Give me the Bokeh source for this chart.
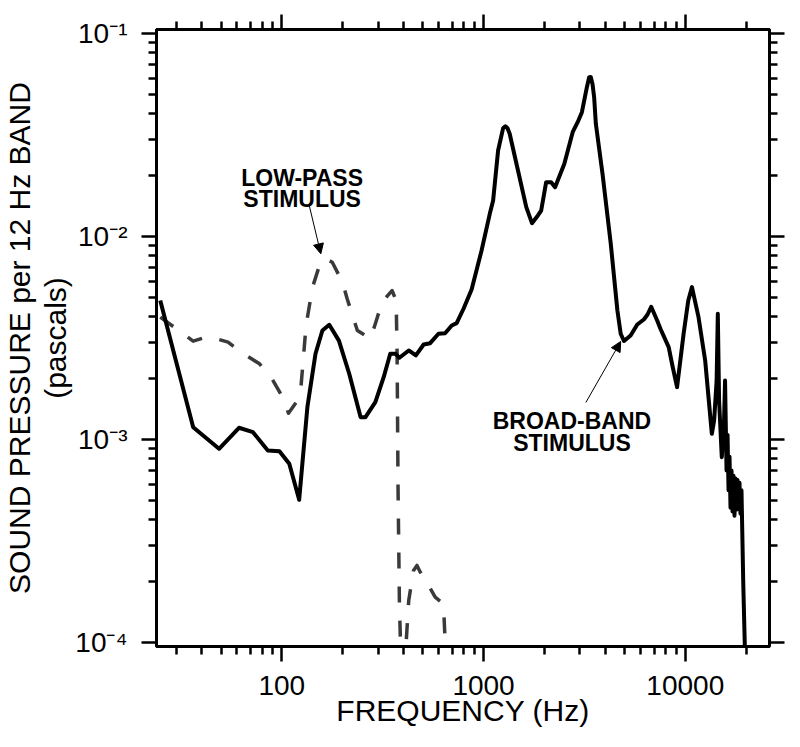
from bokeh.plotting import figure
from bokeh.models import (Range1d, FixedTicker, LogAxis, CustomJSTickFormatter,
                          Label, Arrow, NormalHead)
from bokeh.embed import file_html
from bokeh.resources import INLINE

# ---------------- data ----------------
# Broad-band stimulus (solid line): frequency in Hz, pressure in pascals
bb_freq = [25, 36.4, 48.9, 61.4, 72.0, 85.3, 97.4, 109, 122, 134, 147, 159, 172,
           192, 216, 246, 260, 291, 320, 345, 366, 383, 426, 462, 505, 544, 598,
           645, 696, 736, 797, 873, 978, 1074, 1116, 1181, 1250, 1283, 1315, 1348,
           1482, 1629, 1738, 1860, 1931, 2044, 2163, 2263, 2515, 2766, 2928, 3073,
           3253, 3339, 3400, 3470, 3534, 3603, 3888, 4272, 4608, 4785, 4967, 5358,
           5781, 6230, 6500, 6776, 7254, 7530, 8273, 8630, 9102, 9809, 10345, 10789,
           11629, 12546, 13537, 13896, 14297, 14492, 14707, 15164, 15565, 15740,
           16010, 16196, 16380, 16566, 16755, 16946, 17140, 17336, 17534, 17735,
           17937, 18142, 18350, 18560, 18772, 18987, 19160, 19378, 19755]
bb_pres = [4.82e-3, 1.146e-3, 8.97e-4, 1.138e-3, 1.083e-3, 8.8e-4, 8.73e-4, 7.56e-4,
           5.03e-4, 1.438e-3, 2.634e-3, 3.43e-3, 3.66e-3, 3.06e-3, 2.10e-3, 1.284e-3,
           1.284e-3, 1.522e-3, 2.02e-3, 2.634e-3, 2.634e-3, 2.518e-3, 2.735e-3,
           2.585e-3, 2.927e-3, 2.971e-3, 3.305e-3, 3.328e-3, 3.632e-3, 3.728e-3,
           4.404e-3, 5.46e-3, 8.50e-3, 1.289e-2, 1.499e-2, 2.644e-2, 3.40e-2,
           3.48e-2, 3.40e-2, 3.195e-2, 2.107e-2, 1.39e-2, 1.159e-2, 1.265e-2,
           1.338e-2, 1.845e-2, 1.845e-2, 1.743e-2, 2.273e-2, 3.253e-2, 3.644e-2,
           4.081e-2, 5.42e-2, 6.07e-2, 6.08e-2, 5.6e-2, 4.84e-2, 3.578e-2, 2.03e-2,
           9.18e-3, 4.305e-3, 3.305e-3, 3.045e-3, 3.242e-3, 3.673e-3, 3.887e-3,
           4.114e-3, 4.49e-3, 3.843e-3, 3.498e-3, 2.84e-3, 2.307e-3, 1.804e-3,
           3.305e-3, 4.82e-3, 5.61e-3, 3.99e-3, 2.442e-3, 1.063e-3, 1.236e-3,
           1.946e-3, 4.146e-3, 1.551e-3, 8.15e-4, 1.236e-3, 1.946e-3, 7.01e-4,
           1.05e-3, 5.6e-4, 8.2e-4, 4.6e-4, 7.0e-4, 4.4e-4, 6.6e-4, 4.2e-4, 6.4e-4,
           4.5e-4, 6.3e-4, 4.6e-4, 6.1e-4, 4.3e-4, 5.6e-4, 3.5e-4, 1.94e-4, 9.0e-5]

# Low-pass stimulus (dashed line)
lp_freq = [25, 29.6, 36.4, 43.2, 54.2, 63.0, 77.6, 88.6, 101, 108, 118, 124.5, 132,
           142, 156, 165, 178, 200, 211, 237, 275, 291, 314, 352, 369, 373, 377,
           383, 390, 408, 426, 450, 468, 486, 534, 576, 633, 645, 650]
lp_pres = [3.99e-3, 3.538e-3, 3.04e-3, 3.205e-3, 3.005e-3, 2.683e-3, 2.351e-3,
           2.02e-3, 1.61e-3, 1.343e-3, 1.522e-3, 1.804e-3, 3.632e-3, 5.59e-3,
           7.505e-3, 7.72e-3, 7.445e-3, 5.935e-3, 4.915e-3, 3.43e-3, 3.124e-3,
           3.703e-3, 4.73e-3, 5.40e-3, 4.82e-3, 2.634e-3, 5.8e-4, 1.546e-4, 8e-5,
           8e-5, 1.605e-4, 2.255e-4, 2.387e-4, 2.212e-4, 1.902e-4, 1.666e-4,
           1.546e-4, 1.02e-4, 8e-5]

x_major = [100, 1000, 10000]
x_minor = [30, 40, 50, 60, 70, 80, 90, 200, 300, 400, 500, 600, 700, 800, 900,
           2000, 3000, 4000, 5000, 6000, 7000, 8000, 9000, 20000]
y_major = [1e-4, 1e-3, 1e-2, 1e-1]
y_minor = [m * d for d in (1e-4, 1e-3, 1e-2) for m in range(2, 10)]

FONT = "Liberation Sans"
X0, X1 = 23.95, 26140
Y0, Y1 = 9.52e-5, 0.1043

p = figure(width=792, height=743, x_axis_type="log", y_axis_type="log",
           x_range=Range1d(X0, X1), y_range=Range1d(Y0, Y1),
           output_backend="svg", toolbar_location=None,
           min_border_left=153, min_border_right=23, min_border_top=29,
           min_border_bottom=97)
p.grid.visible = False
p.background_fill_color = "white"
p.border_fill_color = "white"
p.outline_line_color = "black"
p.outline_line_width = 3

xt = FixedTicker(ticks=x_major, minor_ticks=x_minor)
yt = FixedTicker(ticks=y_major, minor_ticks=y_minor)

x_fmt = CustomJSTickFormatter(code="return tick.toFixed(0);")
y_fmt = CustomJSTickFormatter(code="""
const sup = {"-": "\u207b", "0": "\u2070", "1": "\u00b9", "2": "\u00b2", "3": "\u00b3",
             "4": "\u2074", "5": "\u2075", "6": "\u2076", "7": "\u2077", "8": "\u2078", "9": "\u2079"};
const e = Math.round(Math.log10(tick));
return "10" + String(e).split("").map(c => sup[c]).join("");
""")
blank = CustomJSTickFormatter(code='return "";')


def style(ax):
    ax.axis_line_width = 3
    ax.axis_line_color = "black"
    ax.major_tick_line_width = 2.5
    ax.minor_tick_line_width = 2.5
    ax.major_tick_out = 15
    ax.major_tick_in = 0
    ax.minor_tick_out = 8
    ax.minor_tick_in = 0
    ax.major_label_text_font = FONT
    ax.major_label_text_font_size = "28px"
    ax.major_label_text_color = "black"
    ax.axis_label_text_font = FONT
    ax.axis_label_text_font_size = "30px"
    ax.axis_label_text_font_style = "normal"
    ax.axis_label_text_color = "black"


xa = p.xaxis[0]
xa.ticker = xt
xa.formatter = x_fmt
style(xa)
xa.major_label_standoff = 14
xa.axis_label = "FREQUENCY (Hz)"
xa.axis_label_standoff = -4

ya = p.yaxis[0]
ya.ticker = yt
ya.formatter = y_fmt
style(ya)
ya.major_label_standoff = 14
ya.axis_label = "SOUND PRESSURE per 12 Hz BAND\n(pascals)"
ya.axis_label_standoff = 0
ya.axis_label_text_line_height = 1.1

top = LogAxis(ticker=xt, formatter=blank)
style(top)
top.major_label_standoff = 0
p.add_layout(top, "above")

right = LogAxis(ticker=yt, formatter=blank)
style(right)
right.major_label_standoff = 0
p.add_layout(right, "right")

# curves
p.line(lp_freq, lp_pres, line_color="#3a3a3a", line_width=3.5,
       line_dash="16 18", line_join="round")
p.line(bb_freq, bb_pres, line_color="black", line_width=4, line_join="round")

# annotations
for txt, x, y in [("LOW-PASS", 126.2, 1.946e-2), ("STIMULUS", 126.2, 1.533e-2),
                  ("BROAD-BAND", 2744, 1.229e-3), ("STIMULUS", 2744, 9.63e-4)]:
    p.add_layout(Label(x=x, y=y, text=txt, text_align="center",
                       text_baseline="alphabetic", text_font=FONT,
                       text_font_size="23px", text_font_style="bold",
                       text_color="black"))

for xs, ys, xe, ye in [(136.9, 1.416e-2, 156.2, 8.19e-3),
                       (3216, 1.517e-3, 4785, 3.03e-3)]:
    p.add_layout(Arrow(end=NormalHead(size=10, fill_color="black",
                                      line_color="black", line_width=1),
                       x_start=xs, y_start=ys, x_end=xe, y_end=ye,
                       line_width=1, line_color="black"))

open("out.html", "w").write(file_html(p, INLINE))
